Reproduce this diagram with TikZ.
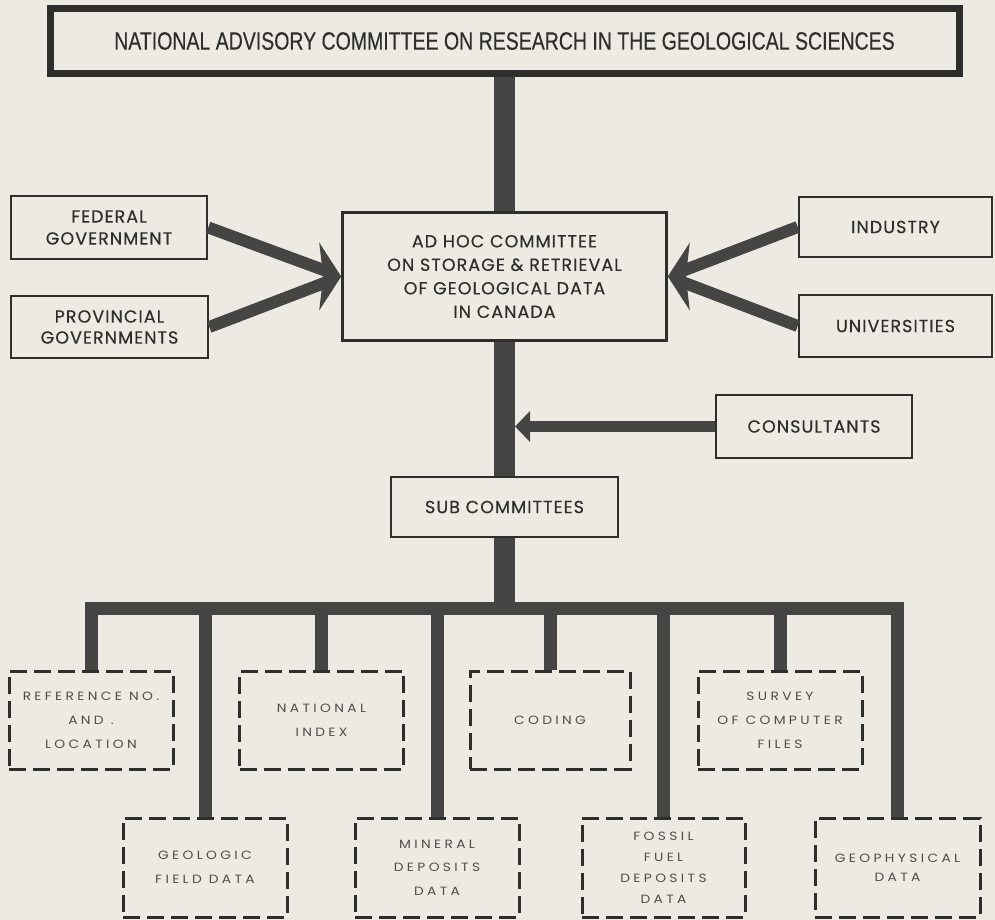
\documentclass[tikz,border=0pt]{standalone}
\usepackage{fontspec}
\setmainfont{Poppins}
\newfontfamily\condfont[FakeStretch=0.78,FakeBold=0.3]{Liberation Sans}
\newfontfamily\boxfont[LetterSpace=6,FakeBold=0.4]{Poppins}
\newfontfamily\thinfont[LetterSpace=28,FakeStretch=1.15]{Poppins}
\usetikzlibrary{arrows.meta}

\definecolor{paper}{HTML}{ECEAE3}
\definecolor{ink}{HTML}{2E2E2C}
\definecolor{bar}{HTML}{454543}

\tikzset{
  headbox/.style={draw=ink,line width=7pt,minimum width=909pt,minimum height=65pt,inner sep=0pt,text=ink,font=\condfont\fontsize{25}{28}\selectfont},
  solidbox/.style={draw=ink,fill=paper,line width=2.6pt,inner sep=0pt,align=center,text=ink,font=\boxfont\fontsize{17.5}{23.5}\selectfont},
  databox/.style={draw=ink,fill=paper,line width=3pt,dash pattern=on 17pt off 7pt,inner sep=0pt,align=center,text=ink!85,minimum width=164pt,font=\thinfont\fontsize{12}{24}\selectfont},
  trunk/.style={draw=bar,line width=21pt},
  branch/.style={draw=bar,line width=13pt,line join=miter},
  feed/.style={draw=bar,line width=12pt}
}

\begin{document}
\begin{tikzpicture}[x=1pt,y=-1pt]
\useasboundingbox (0,0) rectangle (995,920);
\fill[paper] (0,0) rectangle (995,920);

% committees
\node[headbox] (nac) at (504.5,41) {NATIONAL ADVISORY COMMITTEE ON RESEARCH IN THE GEOLOGICAL SCIENCES};
\node[solidbox,minimum width=324pt,minimum height=128pt] (adhoc) at (504.5,276.5) {AD HOC COMMITTEE\\ON STORAGE \& RETRIEVAL\\OF GEOLOGICAL DATA\\IN CANADA};
\node[solidbox,minimum width=227pt,minimum height=60pt] (sub) at (504.5,507) {SUB COMMITTEES};

% sources
\node[solidbox,minimum width=196pt,minimum height=63pt,font=\boxfont\fontsize{17.5}{22}\selectfont] (fed) at (109,227.5) {FEDERAL\\GOVERNMENT};
\node[solidbox,minimum width=197pt,minimum height=62pt,font=\boxfont\fontsize{17.5}{21}\selectfont] (prov) at (109.5,327) {PROVINCIAL\\GOVERNMENTS};
\node[solidbox,minimum width=193pt,minimum height=60pt] (ind) at (895.5,227) {INDUSTRY};
\node[solidbox,minimum width=193pt,minimum height=62pt] (uni) at (895.5,326) {UNIVERSITIES};
\node[solidbox,minimum width=196pt,minimum height=63pt] (cons) at (814,426.5) {CONSULTANTS};

% data files
\node[databox,minimum height=98pt] (ref) at (91,720) {REFERENCE NO.\\AND .\\LOCATION};
\node[databox,minimum height=98pt] (nat) at (321.5,720) {NATIONAL\\INDEX};
\node[databox,minimum height=98pt,minimum width=160pt] (coding) at (550,720) {CODING};
\node[databox,minimum height=98pt] (survey) at (780,720) {SURVEY\\OF COMPUTER\\FILES};
\node[databox,minimum height=99pt] (geol) at (205,867.5) {GEOLOGIC\\FIELD DATA};
\node[databox,minimum height=99pt,font=\thinfont\fontsize{12}{23.5}\selectfont] (mineral) at (437,867.5) {MINERAL\\DEPOSITS\\DATA};
\node[databox,minimum height=99pt,minimum width=163pt,font=\thinfont\fontsize{12}{21}\selectfont] (fossil) at (663.5,867.5) {FOSSIL\\FUEL\\DEPOSITS\\DATA};
\node[databox,minimum height=99pt,minimum width=165pt,font=\thinfont\fontsize{12}{19}\selectfont] (geoph) at (897.5,867.5) {GEOPHYSICAL\\DATA};

% trunk
\draw[trunk] (nac.south) -- (adhoc.north);
\draw[trunk] (adhoc.south) -- (sub.north);
\coordinate (hub) at (504.5,608);
\draw[trunk] (sub.south) -- (hub);
\draw[branch] (ref.north) -- (ref.north |- hub) -- (geoph.north |- hub) -- (geoph.north);
\foreach \n in {nat,coding,survey,geol,mineral,fossil}
  \draw[branch] (\n.north |- hub) -- (\n.north);

% inputs
\draw[feed,shorten >=12pt] (fed.east) -- (adhoc.west);
\draw[feed,shorten >=12pt] (prov.east) -- (adhoc.west);
\fill[bar] (adhoc.west) -- ++(-22,-34) -- ++(4,34) -- ++(-4,34) -- cycle;
\draw[feed,shorten >=12pt] (ind.west) -- (adhoc.east);
\draw[feed,shorten >=12pt] (uni.west) -- (adhoc.east);
\fill[bar] (adhoc.east) -- ++(22,-34) -- ++(-4,34) -- ++(4,34) -- cycle;
\coordinate (tap) at (sub.north |- cons.west);
\draw[feed,line width=11pt,-{Triangle[length=15pt,width=30pt]},shorten >=10.5pt] (cons.west) -- (tap);
\end{tikzpicture}
\end{document}
